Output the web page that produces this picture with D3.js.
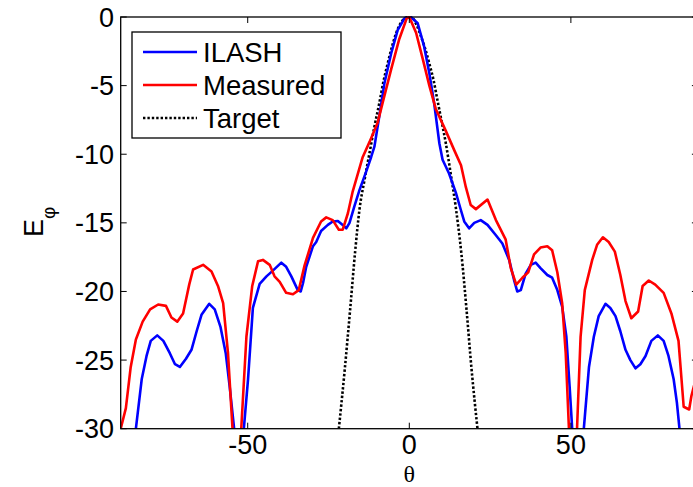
<!DOCTYPE html>
<html>
<head>
<meta charset="utf-8">
<script src="https://cdn.jsdelivr.net/npm/d3@7"></script>
<style>
  html, body { margin: 0; padding: 0; background: #fff; }
  svg { display: block; }
  .tick-label { font-family: "Liberation Sans", Arial, sans-serif; font-size: 27px; fill: #000; }
  .legend-label { font-family: "Liberation Sans", Arial, sans-serif; font-size: 27.5px; fill: #000; }
</style>
</head>
<body>
<svg id="chart" width="693" height="487"></svg>
<script>
// values (theta in degrees, E in dB)
const ilashTheta = [-87, -84.6, -82.8, -81.3, -80, -78, -76.1, -74.1, -72.5, -71, -69.1, -67.4, -65.8, -64.3, -61.9, -60.2, -58.4, -56.8, -55.6, -54.2, -52.7, -51.2, -49.9, -48.4, -46.3, -44.2, -42.3, -39.6, -38.1, -36.5, -34.5, -33.6, -32.9, -31.9, -29.8, -28.8, -27.3, -25.2, -23.7, -22.1, -20.6, -19.5, -18.5, -17, -15.4, -13.4, -11.8, -10.8, -9.3, -7.7, -5.6, -3.6, -1.5, 0.5, 2.6, 4.6, 6.2, 7.7, 9.3, 10.3, 12.3, 14.4, 16, 17, 18.5, 20.1, 22.1, 24.2, 26.8, 28.8, 30.9, 32.4, 33.4, 34.5, 36, 37.6, 39.1, 40.6, 42.7, 44.2, 45.8, 47.3, 48.6, 49.6, 50.4, 52.2, 54, 55.6, 57.1, 58.6, 60.7, 62.2, 63.8, 65.3, 66.9, 68.4, 70, 71.5, 73.1, 74.9, 76.9, 78.7, 80.2, 81.8, 82.8, 83.6, 85];
const ilashE = [-36, -30, -26.4, -24.7, -23.6, -23.2, -23.6, -24.5, -25.3, -25.5, -24.9, -24.25, -22.9, -21.7, -20.9, -21.3, -22.6, -24.5, -26.9, -30, -38, -30, -26.4, -21.2, -19.45, -18.9, -18.5, -17.9, -18.2, -18.9, -19.9, -20, -19.4, -18.2, -16.7, -16.4, -15.6, -15.15, -14.9, -14.86, -15.15, -15.4, -15, -13.8, -12.6, -11.3, -10.2, -9.45, -7.26, -4.83, -2.64, -0.95, -0.1, 0, -0.46, -2.16, -4.1, -6.3, -9.2, -10.4, -11.4, -12.8, -14.1, -14.9, -15.4, -15, -14.8, -15.15, -15.9, -16.5, -17.7, -19.15, -20, -19.9, -18.7, -18.06, -17.9, -18.3, -18.8, -19, -19.9, -21.1, -23.3, -26.9, -30, -38, -30, -25.5, -23.3, -21.8, -20.9, -21.2, -21.8, -22.9, -24.25, -25, -25.6, -25.3, -24.7, -23.6, -23.2, -23.6, -24.7, -26.4, -28.1, -30, -36];

const measuredTheta = [-90, -89.3, -87.7, -86.2, -84.6, -82.5, -80.2, -77.7, -75.3, -73.6, -71.8, -70, -68.1, -66.9, -63.8, -61.2, -59.2, -57.6, -56.1, -54.7, -53.4, -52, -50.4, -48.6, -46.8, -45.3, -43.2, -41.7, -40.1, -38.1, -36, -34.2, -32.4, -29.8, -27.3, -25.7, -23.7, -21.8, -20.6, -19, -17.5, -14.9, -14.4, -12.3, -9.8, -8.2, -5.6, -3.1, -0.8, 0, 2.1, 4.1, 6.2, 8.2, 11.3, 13.9, 16, 17.5, 19, 20.6, 24.2, 26.8, 29.8, 31.4, 33.1, 35, 36.8, 38.6, 40.6, 42.7, 44.2, 45.8, 47.3, 48.4, 49.4, 50.6, 51.9, 53, 54.3, 56.6, 58.1, 59.9, 61.7, 63.6, 65.3, 66.9, 68.7, 70.8, 72.2, 74.1, 76.1, 78.7, 81.1, 83.3, 84.9, 86.6, 87.3, 88.5];
const measuredE = [-31.5, -30, -28.5, -25.5, -23.5, -22.2, -21.3, -20.95, -21.05, -21.9, -22.2, -21.6, -19.5, -18.4, -18.06, -18.55, -19.6, -20.85, -24.5, -30, -38, -30, -23.3, -19.6, -17.8, -17.7, -18.06, -18.9, -19.3, -20.1, -20.2, -19.9, -18.1, -16.1, -14.9, -14.6, -14.8, -15.5, -15.5, -14.3, -12.7, -10.6, -10.2, -9.1, -7.7, -6.2, -3.8, -1.6, -0.1, 0, -1.15, -3, -5, -6.7, -8.3, -9.7, -10.8, -12.4, -13.7, -14, -13.3, -14.8, -16.2, -18.3, -19.5, -19, -18.6, -17.3, -16.8, -16.7, -17, -18.6, -20.85, -24.5, -30, -38, -30, -23.3, -19.9, -17.7, -16.6, -16.05, -16.4, -17.1, -18.8, -20.7, -21.95, -21.46, -19.6, -19.2, -19.5, -20.1, -21.6, -23.6, -28.4, -28.6, -27.6, -26.5];

const targetTheta = [-21.8, -19.9, -18.3, -16.8, -15.4, -13.8, -12.3, -10.8, -9.3, -8, -6.7, -5.4, -4.1, -2.8, -1.5, -0.3, 1.1, 2.3, 3.6, 4.9, 6.2, 7.5, 8.7, 10, 11.3, 12.8, 14.4, 16.1, 17.7, 19.2, 21.1];
const targetE = [-30, -25.5, -21.3, -17.2, -14, -11.8, -9.9, -8, -6.3, -4.7, -3.4, -2.2, -1.2, -0.5, -0.1, 0, -0.1, -0.6, -1.4, -2.3, -3.4, -4.6, -6.05, -7.6, -9.2, -11.4, -13.9, -17.2, -21.3, -25.5, -30];

const xTicks = [-50, 0, 50];
const yTicks = [0, -5, -10, -15, -20, -25, -30];

const seriesNames = ['ILASH', 'Measured', 'Target'];

// axes box, the right edge falls just outside the window like in the original
const boxLeft = 120.7, boxRight = 697.9, boxTop = 17, boxBottom = 428.7;
const tickLen = 6;
const lineWidth = 2.6;

const svg = d3.select('#chart');

const x = d3.scaleLinear().domain([-89.3, 89.3]).range([boxLeft, boxRight]);
const y = d3.scaleLinear().domain([-30, 0]).range([boxBottom, boxTop]);

svg.append('defs').append('clipPath')
    .attr('id', 'plot-clip')
  .append('rect')
    .attr('x', boxLeft).attr('y', boxTop - 1)
    .attr('width', boxRight - boxLeft).attr('height', boxBottom - boxTop + 1);

function zipSeries(xs, ys) {
    return xs.map((t, i) => [t, ys[i]]);
}

const line = d3.line()
    .x(d => x(d[0]))
    .y(d => y(d[1]));

const smooth = d3.line()
    .x(d => x(d[0]))
    .y(d => y(d[1]))
    .curve(d3.curveMonotoneX);

const series = [
    {name: seriesNames[0], data: zipSeries(ilashTheta, ilashE), color: '#0000ff', dash: null, gen: line},
    {name: seriesNames[1], data: zipSeries(measuredTheta, measuredE), color: '#ff0000', dash: null, gen: line},
    {name: seriesNames[2], data: zipSeries(targetTheta, targetE), color: '#000000', dash: '2.4,2', gen: smooth}
];

const plot = svg.append('g').attr('clip-path', 'url(#plot-clip)');

// target underneath, then ILASH, measured on top
[series[2], series[0], series[1]].forEach(s => {
    plot.append('path')
        .datum(s.data)
        .attr('fill', 'none')
        .attr('stroke', s.color)
        .attr('stroke-width', lineWidth)
        .attr('stroke-linejoin', 'round')
        .attr('stroke-dasharray', s.dash)
        .attr('d', s.gen);
});

// axes: box with inward ticks on all four sides
const axes = svg.append('g');

axes.append('rect')
    .attr('x', boxLeft).attr('y', boxTop)
    .attr('width', boxRight - boxLeft).attr('height', boxBottom - boxTop)
    .attr('fill', 'none')
    .attr('stroke', '#000')
    .attr('stroke-width', 1.3);

xTicks.forEach(t => {
    axes.append('line')
        .attr('x1', x(t)).attr('x2', x(t))
        .attr('y1', boxBottom).attr('y2', boxBottom - tickLen)
        .attr('stroke', '#000');
    axes.append('line')
        .attr('x1', x(t)).attr('x2', x(t))
        .attr('y1', boxTop).attr('y2', boxTop + tickLen)
        .attr('stroke', '#000');
    axes.append('text')
        .attr('class', 'tick-label')
        .attr('x', x(t))
        .attr('y', 454)
        .attr('text-anchor', 'middle')
        .text(t);
});

yTicks.forEach(t => {
    axes.append('line')
        .attr('x1', boxLeft).attr('x2', boxLeft + tickLen)
        .attr('y1', y(t)).attr('y2', y(t))
        .attr('stroke', '#000');
    axes.append('line')
        .attr('x1', boxRight).attr('x2', boxRight - tickLen)
        .attr('y1', y(t)).attr('y2', y(t))
        .attr('stroke', '#000');
    axes.append('text')
        .attr('class', 'tick-label')
        .attr('x', 114)
        .attr('y', y(t) + 9.5)
        .attr('text-anchor', 'end')
        .text(t);
});

// axis titles
svg.append('text')
    .attr('x', x(0))
    .attr('y', 482)
    .attr('text-anchor', 'middle')
    .style('font-family', '"Liberation Serif", "Times New Roman", serif')
    .style('font-size', '24px')
    .text('θ');

const ylab = svg.append('text')
    .attr('transform', 'translate(43,237) rotate(-90)')
    .style('font-family', '"Liberation Sans", Arial, sans-serif')
    .style('font-size', '27px');
ylab.append('tspan').text('E');
ylab.append('tspan')
    .attr('dy', 12)
    .style('font-size', '19px')
    .text('φ');

// legend
const legend = svg.append('g');
legend.append('rect')
    .attr('x', 132).attr('y', 32)
    .attr('width', 209).attr('height', 106)
    .attr('fill', '#fff')
    .attr('stroke', '#000')
    .attr('stroke-width', 1.3);

series.forEach((s, i) => {
    const ly = 52 + i * 33;
    legend.append('line')
        .attr('x1', 143).attr('x2', 197)
        .attr('y1', ly).attr('y2', ly)
        .attr('stroke', s.color)
        .attr('stroke-width', lineWidth)
        .attr('stroke-dasharray', s.dash);
    legend.append('text')
        .attr('class', 'legend-label')
        .attr('x', 203)
        .attr('y', ly + 9.8)
        .text(s.name);
});
</script>
</body>
</html>
